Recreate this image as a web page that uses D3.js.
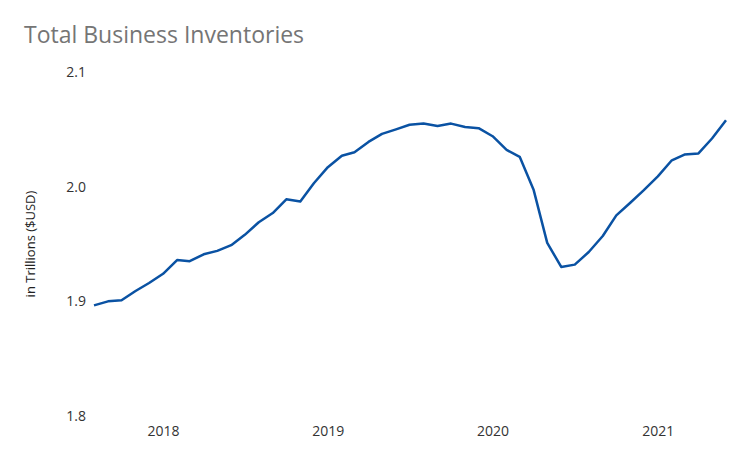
<!DOCTYPE html>
<html>
<head>
<meta charset="utf-8">
<script src="https://cdn.jsdelivr.net/npm/d3@7"></script>
<style>
  body { margin: 0; background: #fff; font-family: "Open Sans", "Liberation Sans", sans-serif; }
</style>
</head>
<body>
<svg id="chart"></svg>
<script>
'use strict';

const startMonth = new Date(2017, 7, 1);
const inventories = [
    1.8965, 1.900, 1.901, 1.909, 1.916, 1.924, 1.936, 1.935, 1.941, 1.944, 1.949, 1.958,
    1.969, 1.977, 1.989, 1.987, 2.003, 2.017, 2.027, 2.030, 2.039, 2.046, 2.050, 2.054,
    2.055, 2.053, 2.055, 2.052, 2.051, 2.044, 2.032, 2.026, 1.997, 1.951, 1.930, 1.932,
    1.943, 1.957, 1.975, 1.986, 1.997, 2.009, 2.023, 2.028, 2.029, 2.042, 2.058
];
const yTicks = [1.8, 1.9, 2.0, 2.1];
const xTicks = [2018, 2019, 2020, 2021];

const width = 750, height = 463;
const data = inventories.map((v, i) => ({date: d3.timeMonth.offset(startMonth, i), value: v}));

const svg = d3.select('#chart').attr('width', width).attr('height', height);

const x = d3.scaleTime()
    .domain([data[0].date, data[data.length - 1].date])
    .range([94, 726]);
const y = d3.scaleLinear().domain([1.8, 2.1]).range([416, 72]);

svg.append('text')
    .attr('x', 24).attr('y', 43)
    .attr('fill', '#757575')
    .attr('font-size', 23)
    .text('Total Business Inventories');

svg.append('g')
    .attr('transform', 'translate(86,0)')
    .call(d3.axisLeft(y).tickValues(yTicks).tickFormat(d3.format('.1f')).tickSize(0).tickPadding(0))
    .call(g => g.select('.domain').remove())
    .call(g => g.selectAll('text').attr('fill', '#333').attr('font-size', 14)
        .attr('font-family', '"Open Sans", sans-serif'));

svg.append('g')
    .attr('transform', 'translate(0,426)')
    .call(d3.axisBottom(x).tickValues(xTicks.map(yr => new Date(yr, 0, 1)))
        .tickFormat(d3.timeFormat('%Y')).tickSize(0).tickPadding(0))
    .call(g => g.select('.domain').remove())
    .call(g => g.selectAll('text').attr('fill', '#333').attr('font-size', 14)
        .attr('font-family', '"Open Sans", sans-serif'));

svg.append('text')
    .attr('transform', 'translate(35,244) rotate(-90)')
    .attr('text-anchor', 'middle')
    .attr('fill', '#222')
    .attr('font-size', 13)
    .text('in Trillions ($USD)');

svg.append('path')
    .datum(data)
    .attr('fill', 'none')
    .attr('stroke', '#0a52a3')
    .attr('stroke-width', 2.5)
    .attr('stroke-linejoin', 'round')
    .attr('d', d3.line().x(d => x(d.date)).y(d => y(d.value)));
</script>
</body>
</html>
